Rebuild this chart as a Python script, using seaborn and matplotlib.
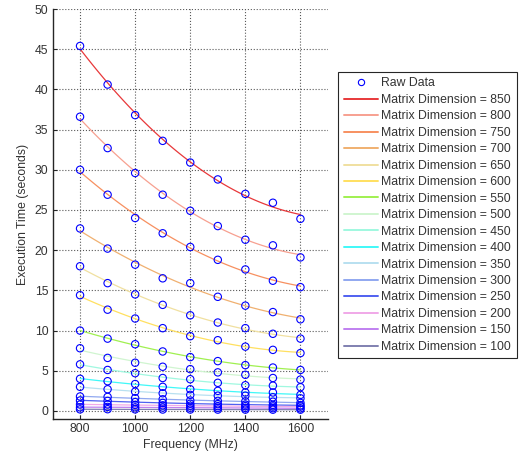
import matplotlib
matplotlib.use("Agg")
import matplotlib.pyplot as plt
import seaborn as sns
import pandas as pd
import numpy as np

frequencies = [800, 900, 1000, 1100, 1200, 1300, 1400, 1500, 1600]
dimensions = [850, 800, 750, 700, 650, 600, 550, 500, 450, 400, 350, 300, 250, 200, 150, 100]

t850 = [45.4, 40.6, 36.8, 33.6, 30.9, 28.8, 27.0, 25.9, 23.9]
t800 = [36.6, 32.7, 29.6, 26.9, 24.9, 23.0, 21.3, 20.6, 19.1]
t750 = [30.0, 26.9, 24.0, 22.1, 20.4, 18.8, 17.6, 16.2, 15.4]
t700 = [22.7, 20.2, 18.2, 16.5, 15.9, 14.2, 13.1, 12.3, 11.4]
t650 = [18.0, 15.9, 14.5, 13.2, 11.9, 11.0, 10.3, 9.6, 9.0]
t600 = [14.4, 12.6, 11.5, 10.3, 9.3, 8.8, 8.0, 7.6, 7.2]
t550 = [10.0, 9.0, 8.3, 7.4, 6.7, 6.2, 5.7, 5.4, 5.1]
t500 = [7.8, 6.6, 6.0, 5.5, 5.2, 4.8, 4.5, 4.1, 3.9]
t450 = [5.8, 5.1, 4.7, 4.1, 3.95, 3.5, 3.2, 3.15, 2.96]
t400 = [4.0, 3.7, 3.35, 3.0, 2.7, 2.5, 2.3, 2.3, 2.0]
t350 = [3.0, 2.7, 2.4, 2.2, 2.0, 1.9, 1.9, 1.7, 1.57]
t300 = [1.8, 1.75, 1.6, 1.45, 1.3, 1.25, 1.2, 1.15, 1.0]
t250 = [1.3, 1.25, 1.1, 1.0, 0.9, 0.85, 0.8, 0.75, 0.7]
t200 = [0.8, 0.8, 0.75, 0.7, 0.65, 0.6, 0.6, 0.55, 0.55]
t150 = [0.45, 0.5, 0.45, 0.42, 0.4, 0.38, 0.37, 0.35, 0.33]
t100 = [0.2, 0.22, 0.2, 0.18, 0.18, 0.17, 0.17, 0.16, 0.16]

times = [t850, t800, t750, t700, t650, t600, t550, t500, t450,
         t400, t350, t300, t250, t200, t150, t100]

line_colors = ['#e8383a', '#f7a090', '#f79060', '#f0b070', '#f0e0a0', '#ffe060',
               '#a0f050', '#d0f5d0', '#a0f8e0', '#40f8f8', '#b8e0f0', '#90a8f0',
               '#5060f0', '#f0a8e8', '#c080f0', '#8080b0']

rows = []
for d, ts in zip(dimensions, times):
    for f, t in zip(frequencies, ts):
        rows.append({"Frequency": f, "Time": t, "Dimension": d})
df = pd.DataFrame(rows)

sns.set_theme(style="white")
plt.rcParams['font.family'] = ['Liberation Sans', 'DejaVu Sans']
text_color = '#333333'

fig = plt.figure(figsize=(5.28, 4.59), dpi=100)
ax = fig.add_axes([52.5 / 528, 1 - 419 / 459, (328 - 52.5) / 528, (419 - 9) / 459])

handles = []
for d, c in zip(dimensions, line_colors):
    sub = df[df["Dimension"] == d]
    sns.regplot(data=sub, x="Frequency", y="Time", order=2, ci=None,
                scatter=False, ax=ax, line_kws=dict(color=c, lw=0.9))
    handles.append(ax.lines[-1])

sns.scatterplot(data=df, x="Frequency", y="Time", ax=ax, s=28,
                marker='o', color='#0000ff', linewidth=0.8, zorder=5, legend=False)
coll = ax.collections[-1]
coll.set_facecolor('none')
coll.set_edgecolor('#0000ff')

ax.set_xlim(700, 1700)
ax.set_ylim(-1, 50)
ax.set_xticks([800, 1000, 1200, 1400, 1600])
ax.set_yticks(list(range(0, 51, 5)))
ax.grid(True, linestyle=':', color='0.35', linewidth=0.8)
for s in ['top', 'right']:
    ax.spines[s].set_visible(False)
for s in ['left', 'bottom']:
    ax.spines[s].set_color('#262626')
    ax.spines[s].set_linewidth(1.0)
ax.tick_params(direction='in', length=3, width=0.8, colors='#262626',
               labelsize=8.8, labelcolor=text_color, left=True, bottom=True, pad=3)
ax.set_xlabel("Frequency (MHz)", fontsize=8.8, color=text_color, labelpad=3)
ax.set_ylabel("Execution Time (seconds)", fontsize=8.8, color=text_color, labelpad=4)

raw_handle = plt.Line2D([], [], linestyle='none', marker='o', markersize=4.5,
                        markerfacecolor='none', markeredgecolor='#0000ff',
                        markeredgewidth=0.8)
leg = fig.legend([raw_handle] + handles,
                 ["Raw Data"] + [f"Matrix Dimension = {d}" for d in dimensions],
                 loc='upper left', bbox_to_anchor=(338 / 528, 1 - 72 / 459),
                 bbox_transform=fig.transFigure, fontsize=8.8, frameon=True,
                 fancybox=False, edgecolor='#262626', framealpha=1,
                 handlelength=2.8, handletextpad=0.3, labelspacing=0.365,
                 borderpad=0.45, borderaxespad=0)
leg.get_frame().set_linewidth(0.8)
for line in leg.get_lines()[1:]:
    line.set_linewidth(1.4)
for t in leg.get_texts():
    t.set_color(text_color)

fig.savefig("out.png", dpi=100)
